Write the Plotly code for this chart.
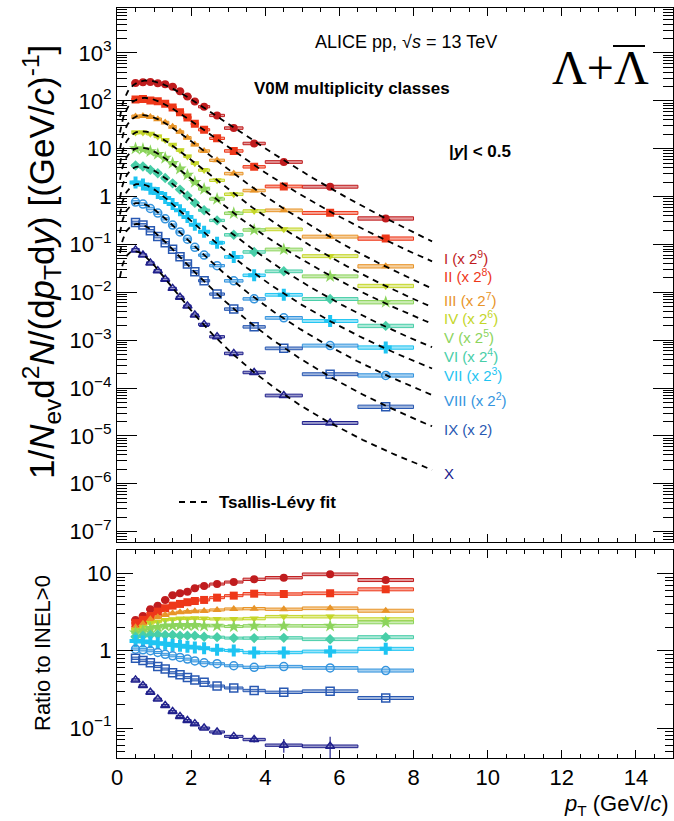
import numpy as np
import plotly.graph_objects as go

# ---------------- data ----------------
pt_lo = [0.4, 0.6, 0.8, 1.0, 1.2, 1.4, 1.6, 1.8, 2.0, 2.2, 2.5, 2.9, 3.4, 4.0, 5.0, 6.5]
pt_hi = [0.6, 0.8, 1.0, 1.2, 1.4, 1.6, 1.8, 2.0, 2.2, 2.5, 2.9, 3.4, 4.0, 5.0, 6.5, 8.0]

class_names = ["I", "II", "III", "IV", "V", "VI", "VII", "VIII", "IX", "X"]
class_labels = ["I (x 2<sup>9</sup>)", "II (x 2<sup>8</sup>)", "III (x 2<sup>7</sup>)",
                "IV (x 2<sup>6</sup>)", "V (x 2<sup>5</sup>)", "VI (x 2<sup>4</sup>)",
                "VII (x 2<sup>3</sup>)", "VIII (x 2<sup>2</sup>)", "IX (x 2)", "X"]

# scaled spectra 1/Nev d2N/(dpT dy)
spec_I = [235, 244, 248, 234, 222, 197, 158, 123, 96.9, 75.5, 49.6, 27.0, 12.9, 5.29, 1.61, 0.350]
spec_II = [107, 109, 102, 97.9, 86.6, 72.6, 57.6, 45.1, 33.2, 24.9, 16.5, 9.0, 4.19, 1.63, 0.457, 0.133]
spec_III = [47.3, 48.2, 46.2, 41.4, 35.5, 28.9, 22.5, 17.0, 12.2, 8.99, 5.74, 3.03, 1.34, 0.517, 0.146, 0.0350]
spec_IV = [21.8, 21.9, 20.6, 18.1, 15.3, 12.1, 9.30, 6.92, 4.97, 3.58, 2.19, 1.12, 0.500, 0.207, 0.0571, 0.0136]
spec_V = [10.1, 9.85, 8.84, 7.70, 6.41, 5.00, 3.81, 2.84, 2.01, 1.44, 0.891, 0.448, 0.201, 0.0786, 0.0216, 0.00622]
spec_VI = [4.45, 4.24, 3.61, 3.08, 2.44, 1.89, 1.40, 1.04, 0.738, 0.520, 0.318, 0.159, 0.0698, 0.0275, 0.00726, 0.00199]
spec_VII = [1.96, 1.78, 1.46, 1.19, 0.939, 0.702, 0.517, 0.374, 0.259, 0.185, 0.109, 0.0549, 0.0227, 0.00889, 0.00252, 0.000704]
spec_VIII = [0.769, 0.696, 0.564, 0.452, 0.343, 0.254, 0.183, 0.129, 0.0870, 0.0599, 0.0361, 0.0174, 0.0073, 0.00293, 0.000773, 0.000184]
spec_IX = [0.286, 0.256, 0.194, 0.146, 0.109, 0.079, 0.0556, 0.0391, 0.027, 0.0175, 0.0092, 0.00447, 0.0019, 0.000676, 0.000195, 0.0000407]
spec_X = [0.077, 0.060, 0.041, 0.0283, 0.0187, 0.0121, 0.00786, 0.00517, 0.00335, 0.00214, 0.00118, 0.00053, 0.000212, 0.000070, 0.0000187]

# ratios to INEL>0
ratio_I = [2.51, 2.82, 3.44, 3.84, 4.55, 5.22, 5.55, 5.82, 6.44, 6.89, 7.31, 7.76, 8.41, 8.83, 9.77, 8.24]
ratio_II = [2.28, 2.51, 2.82, 3.21, 3.55, 3.84, 4.04, 4.25, 4.41, 4.55, 4.87, 5.17, 5.48, 5.43, 5.55, 6.25]
ratio_III = [2.02, 2.23, 2.56, 2.72, 2.91, 3.06, 3.16, 3.21, 3.25, 3.28, 3.38, 3.48, 3.51, 3.45, 3.55, 3.30]
ratio_IV = [1.86, 2.02, 2.28, 2.38, 2.51, 2.56, 2.61, 2.61, 2.64, 2.61, 2.58, 2.58, 2.61, 2.77, 2.77, 2.56]
ratio_V = [1.72, 1.82, 1.96, 2.02, 2.10, 2.12, 2.14, 2.14, 2.14, 2.10, 2.10, 2.06, 2.10, 2.10, 2.10, 2.34]
ratio_VI = [1.52, 1.57, 1.60, 1.62, 1.60, 1.60, 1.57, 1.57, 1.57, 1.52, 1.50, 1.46, 1.46, 1.47, 1.41, 1.50]
ratio_VII = [1.34, 1.32, 1.29, 1.25, 1.23, 1.19, 1.16, 1.13, 1.10, 1.08, 1.03, 1.01, 0.95, 0.95, 0.98, 1.06]
ratio_VIII = [1.05, 1.03, 1.00, 0.95, 0.90, 0.86, 0.82, 0.78, 0.74, 0.70, 0.68, 0.64, 0.61, 0.625, 0.60, 0.555]
ratio_IX = [0.80, 0.75, 0.70, 0.625, 0.58, 0.52, 0.49, 0.45, 0.42, 0.39, 0.35, 0.33, 0.306, 0.29, 0.30, 0.245]
ratio_X = [0.42, 0.355, 0.29, 0.237, 0.196, 0.164, 0.141, 0.125, 0.114, 0.100, 0.089, 0.078, 0.071, 0.060, 0.058]
ratio_X_stat = [0.004, 0.003, 0.002, 0.002, 0.002, 0.002, 0.002, 0.002, 0.002, 0.002, 0.002, 0.003, 0.006, 0.012, 0.019]

# relative systematic uncertainties (box heights)
sys_rel_spec = [0.07, 0.065, 0.06, 0.06, 0.055, 0.055, 0.055, 0.055, 0.055, 0.055, 0.055, 0.06, 0.06, 0.065, 0.07, 0.08]
sys_rel_ratio = [0.035, 0.035, 0.03, 0.03, 0.03, 0.03, 0.03, 0.03, 0.03, 0.03, 0.03, 0.03, 0.035, 0.035, 0.04, 0.045]

spectra = [spec_I, spec_II, spec_III, spec_IV, spec_V, spec_VI, spec_VII, spec_VIII, spec_IX, spec_X]
ratios = [ratio_I, ratio_II, ratio_III, ratio_IV, ratio_V, ratio_VI, ratio_VII, ratio_VIII, ratio_IX, ratio_X]

# ---------------- styles ----------------
colors = ["rgb(192,28,30)", "rgb(238,55,25)", "rgb(232,148,40)", "rgb(196,214,40)",
          "rgb(140,212,92)", "rgb(72,206,168)", "rgb(30,196,242)", "rgb(52,148,222)",
          "rgb(40,88,178)", "rgb(32,32,140)"]
symbols = ["circle", "square", "triangle-up", "triangle-down", "star", "diamond",
           "cross", "circle-open", "square-open", "triangle-up-open"]
label_px_y = [257, 275, 299, 317, 336, 355, 375, 399, 429, 473]

FONT = "Liberation Sans, Arial, sans-serif"
M_LAMBDA = 1.115683


def rgba(c, a):
    return c.replace("rgb(", "rgba(").replace(")", ",%.2f)" % a)


def px_x(x):
    return (x - 117.0) / 556.0


def px_y(y):
    return (758.0 - y) / 750.0


# Levy-Tsallis fit (grid search in log space)
Tg, ng = np.meshgrid(np.arange(0.12, 0.80, 0.004), np.arange(3.0, 60.0, 0.2), indexing="ij")


def levy_fit(pt, y):
    pt = np.asarray(pt, float)
    ly = np.log(np.asarray(y, float))
    mt = np.sqrt(pt ** 2 + M_LAMBDA ** 2)
    sh = np.log(pt)[None, None, :] - ng[..., None] * np.log1p(
        (mt - M_LAMBDA)[None, None, :] / (ng[..., None] * Tg[..., None]))
    la = (ly[None, None, :] - sh).mean(-1)
    res = ((ly[None, None, :] - sh - la[..., None]) ** 2).sum(-1)
    i = np.unravel_index(res.argmin(), res.shape)
    return np.exp(la[i]), Tg[i], ng[i]


def levy(pt, A, T, n):
    mt = np.sqrt(pt ** 2 + M_LAMBDA ** 2)
    return A * pt * (1 + (mt - M_LAMBDA) / (n * T)) ** (-n)


fig = go.Figure()

lo = np.array(pt_lo)
hi = np.array(pt_hi)
cen = 0.5 * (lo + hi)
wid = hi - lo

# systematic boxes
for k in range(10):
    npts = len(spectra[k])
    v = np.array(spectra[k])
    s = np.array(sys_rel_spec[:npts])
    fig.add_trace(go.Bar(x=cen[:npts], y=2 * s * v, base=v * (1 - s), width=wid[:npts],
                         marker=dict(color=rgba(colors[k], 0.45), line=dict(color=colors[k], width=1)),
                         xaxis="x", yaxis="y", showlegend=False, hoverinfo="skip"))
    r = np.array(ratios[k])
    nr = len(r)
    sr = np.array(sys_rel_ratio[:nr])
    fig.add_trace(go.Bar(x=cen[:nr], y=2 * sr * r, base=r * (1 - sr), width=wid[:nr],
                         marker=dict(color=rgba(colors[k], 0.45), line=dict(color=colors[k], width=1)),
                         xaxis="x2", yaxis="y2", showlegend=False, hoverinfo="skip"))

# markers
for k in range(10):
    npts = len(spectra[k])
    open_m = symbols[k].endswith("open")
    mk = dict(symbol=symbols[k], size=8 if symbols[k] not in ("star", "cross") else 10,
              color=colors[k], line=dict(color=colors[k], width=1.5 if open_m else 0))
    fig.add_trace(go.Scatter(x=cen[:npts], y=spectra[k], mode="markers", marker=mk,
                             xaxis="x", yaxis="y", showlegend=False, hoverinfo="skip"))
    nr = len(ratios[k])
    err = dict(type="data", array=ratio_X_stat, color=colors[k], thickness=1.2, width=0) if k == 9 else None
    fig.add_trace(go.Scatter(x=cen[:nr], y=ratios[k], mode="markers", marker=mk, error_y=err,
                             xaxis="x2", yaxis="y2", showlegend=False, hoverinfo="skip"))

# fits
pt_fit = np.linspace(0.08, 8.5, 400)
for k in range(10):
    npts = len(spectra[k])
    A, T, n = levy_fit(cen[:npts], spectra[k])
    fig.add_trace(go.Scatter(x=pt_fit, y=levy(pt_fit, A, T, n), mode="lines",
                             line=dict(color="black", width=1.8, dash="6px,5px"),
                             xaxis="x", yaxis="y", showlegend=False, hoverinfo="skip"))

# ---------------- axes ----------------
def sup(e):
    return "10<sup>%s</sup>" % str(e).replace("-", "\u2212")


top_vals = [10.0 ** e for e in range(-7, 4)]
top_text = []
for e in range(-7, 4):
    top_text.append("1" if e == 0 else ("10" if e == 1 else sup(e)))
top_minor = [m * 10.0 ** e for e in range(-8, 4) for m in range(2, 10)]
bot_vals = [0.1, 1, 10]
bot_text = [sup(-1), "1", "10"]
bot_minor = [m * 10.0 ** e for e in range(-2, 2) for m in range(2, 10)]

xcommon = dict(range=[0, 15], showline=True, linecolor="black", linewidth=1, mirror="allticks",
               ticks="inside", ticklen=8, tickwidth=1, tickcolor="black", dtick=2, tick0=0,
               minor=dict(ticks="inside", dtick=0.5, ticklen=4, tickwidth=1, tickcolor="black"),
               showgrid=False, zeroline=False, tickfont=dict(size=22, family=FONT, color="black"))

fig.update_layout(
    width=674, height=821,
    margin=dict(l=117, r=1, t=8, b=63),
    paper_bgcolor="white", plot_bgcolor="white",
    barmode="overlay",
    font=dict(family=FONT, color="black"),
    xaxis=dict(xcommon, domain=[0, 1], anchor="y", showticklabels=False, matches="x2"),
    xaxis2=dict(xcommon, domain=[0, 1], anchor="y2", showticklabels=True, ticklabelstandoff=0),
    yaxis=dict(type="log", domain=[0.2884, 1.0], anchor="x", range=[-7.21, 3.94],
               showline=True, linecolor="black", linewidth=1, mirror="allticks",
               ticks="inside", ticklen=20, tickwidth=1, tickcolor="black",
               tickmode="array", tickvals=top_vals, ticktext=top_text,
               minor=dict(ticks="inside", tickmode="array", tickvals=top_minor, ticklen=10,
                          tickwidth=1, tickcolor="black"),
               showgrid=False, zeroline=False, tickfont=dict(size=22, family=FONT, color="black")),
    yaxis2=dict(type="log", domain=[0, 0.2773], anchor="x2", range=[-1.388, 1.304],
                showline=True, linecolor="black", linewidth=1, mirror="allticks",
                ticks="inside", ticklen=16, tickwidth=1, tickcolor="black",
                tickmode="array", tickvals=bot_vals, ticktext=bot_text,
                minor=dict(ticks="inside", tickmode="array", tickvals=bot_minor, ticklen=8,
                           tickwidth=1, tickcolor="black"),
                showgrid=False, zeroline=False, tickfont=dict(size=22, family=FONT, color="black")),
)

ann = []
# axis titles
ann.append(dict(text="1/<i>N</i><sub>ev</sub>d<sup>2</sup><i>N</i>/(d<i>p</i><sub>T</sub>d<i>y</i>) [(GeV/<i>c</i>)<sup>-1</sup>]",
                x=px_x(41), y=px_y(262), xref="paper", yref="paper", textangle=-90,
                showarrow=False, font=dict(size=35, family=FONT), xanchor="center", yanchor="middle"))
ann.append(dict(text="Ratio to INEL>0", x=px_x(42), y=px_y(653), xref="paper", yref="paper",
                textangle=-90, showarrow=False, font=dict(size=22, family=FONT),
                xanchor="center", yanchor="middle"))
ann.append(dict(text="<i>p</i><sub>T</sub> (GeV/<i>c</i>)", x=px_x(671), y=px_y(805), xref="paper",
                yref="paper", showarrow=False, font=dict(size=22, family=FONT),
                xanchor="right", yanchor="middle"))
# header texts
ann.append(dict(text="ALICE pp, \u221a<i>s</i> = 13 TeV", x=px_x(406), y=px_y(42), xref="paper",
                yref="paper", showarrow=False, font=dict(size=18, family=FONT),
                xanchor="center", yanchor="middle"))
ann.append(dict(text="<b>V0M multiplicity classes</b>", x=px_x(352), y=px_y(88), xref="paper",
                yref="paper", showarrow=False, font=dict(size=17, family=FONT),
                xanchor="center", yanchor="middle"))
ann.append(dict(text="<b>|<i>y</i>| < 0.5</b>", x=px_x(447), y=px_y(152), xref="paper",
                yref="paper", showarrow=False, font=dict(size=17, family=FONT),
                xanchor="left", yanchor="middle"))
ann.append(dict(text="\u039b+\u039b", x=px_x(600), y=px_y(68), xref="paper", yref="paper",
                showarrow=False, font=dict(size=48, family="Liberation Serif, Times New Roman, serif"),
                xanchor="center", yanchor="middle"))
ann.append(dict(text="<b>Tsallis-L\u00e9vy fit</b>", x=px_x(217), y=px_y(502), xref="paper",
                yref="paper", showarrow=False, font=dict(size=17, family=FONT),
                xanchor="left", yanchor="middle"))
for k in range(10):
    ann.append(dict(text=class_labels[k], x=px_x(442), y=px_y(label_px_y[k]), xref="paper",
                    yref="paper", showarrow=False, font=dict(size=15, family=FONT, color=colors[k]),
                    xanchor="left", yanchor="middle"))
fig.update_layout(annotations=ann)

fig.update_layout(shapes=[
    dict(type="line", xref="paper", yref="paper", x0=px_x(613), x1=px_x(645), y0=px_y(46), y1=px_y(46),
         line=dict(color="black", width=2)),
    dict(type="line", xref="paper", yref="paper", x0=px_x(179), x1=px_x(208), y0=px_y(502), y1=px_y(502),
         line=dict(color="black", width=1.8, dash="6px,5px")),
])

fig.write_html("out.html")
